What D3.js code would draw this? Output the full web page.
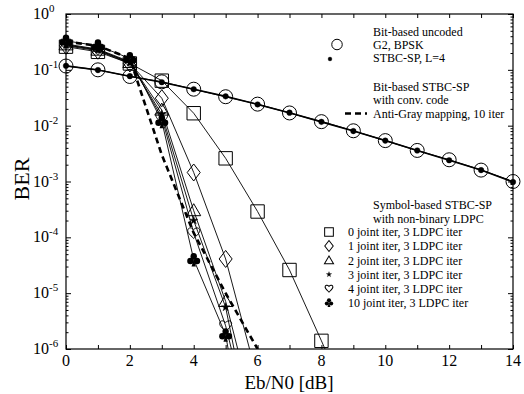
<!DOCTYPE html>
<html><head><meta charset="utf-8">
<script src="https://cdn.jsdelivr.net/npm/d3@7/dist/d3.min.js"></script>
<style>
body{margin:0;background:#fff;}
text{font-family:"Liberation Serif","Times New Roman",serif;fill:#000;}
</style></head>
<body><svg id="c" width="524" height="394"></svg>
<script>
// ---- data ----
const ebn0Uncoded = [0,1,2,3,4,5,6,7,8,9,10,11,12,13,14];
const berG2BPSK   = [0.117,0.100,0.076,0.061,0.045,0.033,0.0243,0.0169,0.0118,0.0081,0.0054,0.0036,0.00245,0.0016,0.00100];
const berSTBCSP   = [0.118,0.099,0.077,0.060,0.045,0.0335,0.0240,0.0171,0.0117,0.0080,0.0054,0.0036,0.0024,0.0016,0.00098];

const ebn0Coded   = [0,1,2,3,4,5,6];
const berAntiGray = [0.32,0.27,0.16,3.0e-3,1.2e-4,1.0e-5,1.0e-6];

const ebn0Iter0   = [0,1,2,3,4,5,6,7,8,9];
const berIter0    = [0.26,0.21,0.13,0.064,0.0167,0.0026,2.9e-4,2.6e-5,1.4e-6,7e-8];
const berIter1    = [0.27,0.22,0.13,0.031,0.00145,4.1e-5,2.9e-7];
const berIter2    = [0.28,0.225,0.135,0.019,3.0e-4,7.1e-6,4e-8];
const berIter3    = [0.28,0.23,0.135,0.016,2.0e-4,5.6e-6,8e-9];
const berIter4    = [0.29,0.235,0.14,0.014,1.2e-4,2.6e-6,1.3e-8];
const berIter10   = [0.33,0.27,0.16,0.012,4.0e-5,1.8e-6,1e-9];

const xTicks = [0,2,4,6,8,10,12,14];
const yTickExp = [0,-1,-2,-3,-4,-5,-6];

const legendUncoded = ["Bit-based uncoded","G2, BPSK","STBC-SP, L=4"];
const legendConv = ["Bit-based STBC-SP","with conv. code","Anti-Gray mapping, 10 iter"];
const legendLDPC = ["Symbol-based STBC-SP","with non-binary LDPC",
  "0 joint iter, 3 LDPC iter","1 joint iter, 3 LDPC iter","2 joint iter, 3 LDPC iter",
  "3 joint iter, 3 LDPC iter","4 joint iter, 3 LDPC iter","10 joint iter, 3 LDPC iter"];

// ---- layout ----
const L=66,R=513,T=14,B=349;
const svg=d3.select("#c");
const x=d3.scaleLinear().domain([0,14]).range([L,R]);
const y=d3.scaleLog().domain([1e-6,1]).range([B,T]);

svg.append("clipPath").attr("id","clip").append("rect")
  .attr("x",L).attr("y",T).attr("width",R-L).attr("height",B-T);

// axes ticks (inward)
const minorY=[];
for(let e=-6;e<0;e++) for(let m=2;m<=9;m++) minorY.push(m*Math.pow(10,e));
const majorY=yTickExp.map(e=>Math.pow(10,e));
const gA=svg.append("g");
gA.append("g").attr("transform",`translate(${L},0)`).call(d3.axisRight(y).tickValues(majorY).tickSize(5).tickFormat(""));
gA.append("g").attr("transform",`translate(${L},0)`).call(d3.axisRight(y).tickValues(minorY).tickSize(2.5).tickFormat(""));
gA.append("g").attr("transform",`translate(${R},0)`).call(d3.axisLeft(y).tickValues(majorY).tickSize(5).tickFormat(""));
gA.append("g").attr("transform",`translate(${R},0)`).call(d3.axisLeft(y).tickValues(minorY).tickSize(2.5).tickFormat(""));
gA.append("g").attr("transform",`translate(0,${B})`).call(d3.axisTop(x).tickValues(d3.range(0,15,1)).tickSize(4).tickFormat(""));
gA.append("g").attr("transform",`translate(0,${T})`).call(d3.axisBottom(x).tickValues(d3.range(0,15,1)).tickSize(4).tickFormat(""));
gA.selectAll(".domain").remove();
gA.selectAll("line").attr("stroke","#000").attr("stroke-width",1);
svg.append("rect").attr("x",L).attr("y",T).attr("width",R-L).attr("height",B-T)
  .attr("fill","none").attr("stroke","#000").attr("stroke-width",1.2);

// tick labels
svg.append("g").selectAll("text").data(xTicks).join("text")
  .attr("x",d=>x(d)).attr("y",B+17).attr("text-anchor","middle")
  .attr("font-size",16).text(d=>d);
const yl=svg.append("g").selectAll("text").data(yTickExp).join("text")
  .attr("x",33).attr("y",d=>y(Math.pow(10,d))+5).attr("font-size",16);
yl.append("tspan").text("10");
yl.append("tspan").attr("dy",-7).attr("font-size",11).text(d=>d===0?"0":"-"+(-d));

svg.append("text").attr("transform","translate(29,179) rotate(-90)")
  .attr("text-anchor","middle").attr("font-size",22).text("BER");
svg.append("text").attr("x",289).attr("y",389).attr("text-anchor","middle")
  .attr("font-size",19).text("Eb/N0 [dB]");

// ---- markers ----
const shapes={
  circle:"M7,0A7,7 0 1,1 -7,0A7,7 0 1,1 7,0Z",
  square:"M-6.7,-6.7H6.7V6.7H-6.7Z",
  diamond:"M0,-8.5L6.5,0L0,8.5L-6.5,0Z",
  triangle:"M0,-7L7,5L-7,5Z",
  heart:"M0,5.5C-2,3.5 -6,0.5 -6,-2.3C-6,-5 -2.8,-6.2 0,-3.4C2.8,-6.2 6,-5 6,-2.3C6,0.5 2,3.5 0,5.5Z",
  star:d3.symbol(d3.symbolStar,22)(),
  dot:"M2.8,0A2.8,2.8 0 1,1 -2.8,0A2.8,2.8 0 1,1 2.8,0Z"
};
function drawMarker(g,type,cx,cy,s){
  s=s||1;
  const gg=g.append("g").attr("transform",`translate(${cx},${cy}) scale(${s})`);
  if(type==="club"){
    [[0,-3.3],[-3.3,1.5],[3.3,1.5]].forEach(p=>gg.append("circle").attr("cx",p[0]).attr("cy",p[1]).attr("r",3.2).attr("fill","#000"));
    gg.append("path").attr("d","M0,0L-2.2,7L2.2,7Z").attr("fill","#000");
    return;
  }
  const filled = (type==="dot"||type==="star");
  gg.append("path").attr("d",shapes[type])
    .attr("fill",filled?"#000":"none").attr("stroke","#000").attr("stroke-width",filled?0.4:1/s);
}

const line=d3.line().x(d=>x(d[0])).y(d=>y(d[1]));
const plot=svg.append("g").attr("clip-path","url(#clip)");
const mk=svg.append("g");

function series(xs,ys,marker,opts){
  const pts=xs.map((v,i)=>[v,ys[i]]).filter(p=>p[1]!==undefined);
  const p=plot.append("path").datum(pts).attr("d",line).attr("fill","none")
    .attr("stroke","#000").attr("stroke-width",opts.w||1);
  if(opts.dash) p.attr("stroke-dasharray",opts.dash);
  if(marker) pts.filter(q=>q[1]>=1e-6).forEach(q=>drawMarker(mk,marker,x(q[0]),y(q[1])));
}

series(ebn0Iter0,berIter0,"square",{w:0.9});
series(ebn0Coded,berIter1,"diamond",{w:0.9});
series(ebn0Coded,berIter2,"triangle",{w:0.9});
series(ebn0Coded,berIter3,"star",{w:0.9});
series(ebn0Coded,berIter4,"heart",{w:0.9});
series(ebn0Coded,berIter10,"club",{w:0.9});
series(ebn0Coded,berAntiGray,null,{w:2.6,dash:"6,4"});
series(ebn0Uncoded,berG2BPSK,"circle",{w:1.1});
series(ebn0Uncoded,berSTBCSP,"dot",{w:1.6});

// ---- legend ----
const lg=svg.append("g").attr("font-size",12);
const tx=373;
[31.7,44.5,58].forEach((yy,i)=>lg.append("text").attr("x",tx).attr("y",yy+4).text(legendUncoded[i]));
drawMarker(lg,"circle",337,44.5,0.75);
drawMarker(lg,"dot",330,59,0.7);
[86.5,100,113.5].forEach((yy,i)=>lg.append("text").attr("x",tx).attr("y",yy+4).text(legendConv[i]));
lg.append("line").attr("x1",345).attr("x2",367).attr("y1",113.5).attr("y2",113.5)
  .attr("stroke","#000").attr("stroke-width",2.6).attr("stroke-dasharray","6,4");
const ly=[205,218.5,232,246,260.5,274.5,288.5,302.5];
ly.forEach((yy,i)=>lg.append("text").attr("x",i<2?tx:348).attr("y",yy+4).text(legendLDPC[i]));
["square","diamond","triangle","star","heart","club"].forEach((m,i)=>drawMarker(lg,m,329,ly[i+2],0.65));
</script></body></html>
